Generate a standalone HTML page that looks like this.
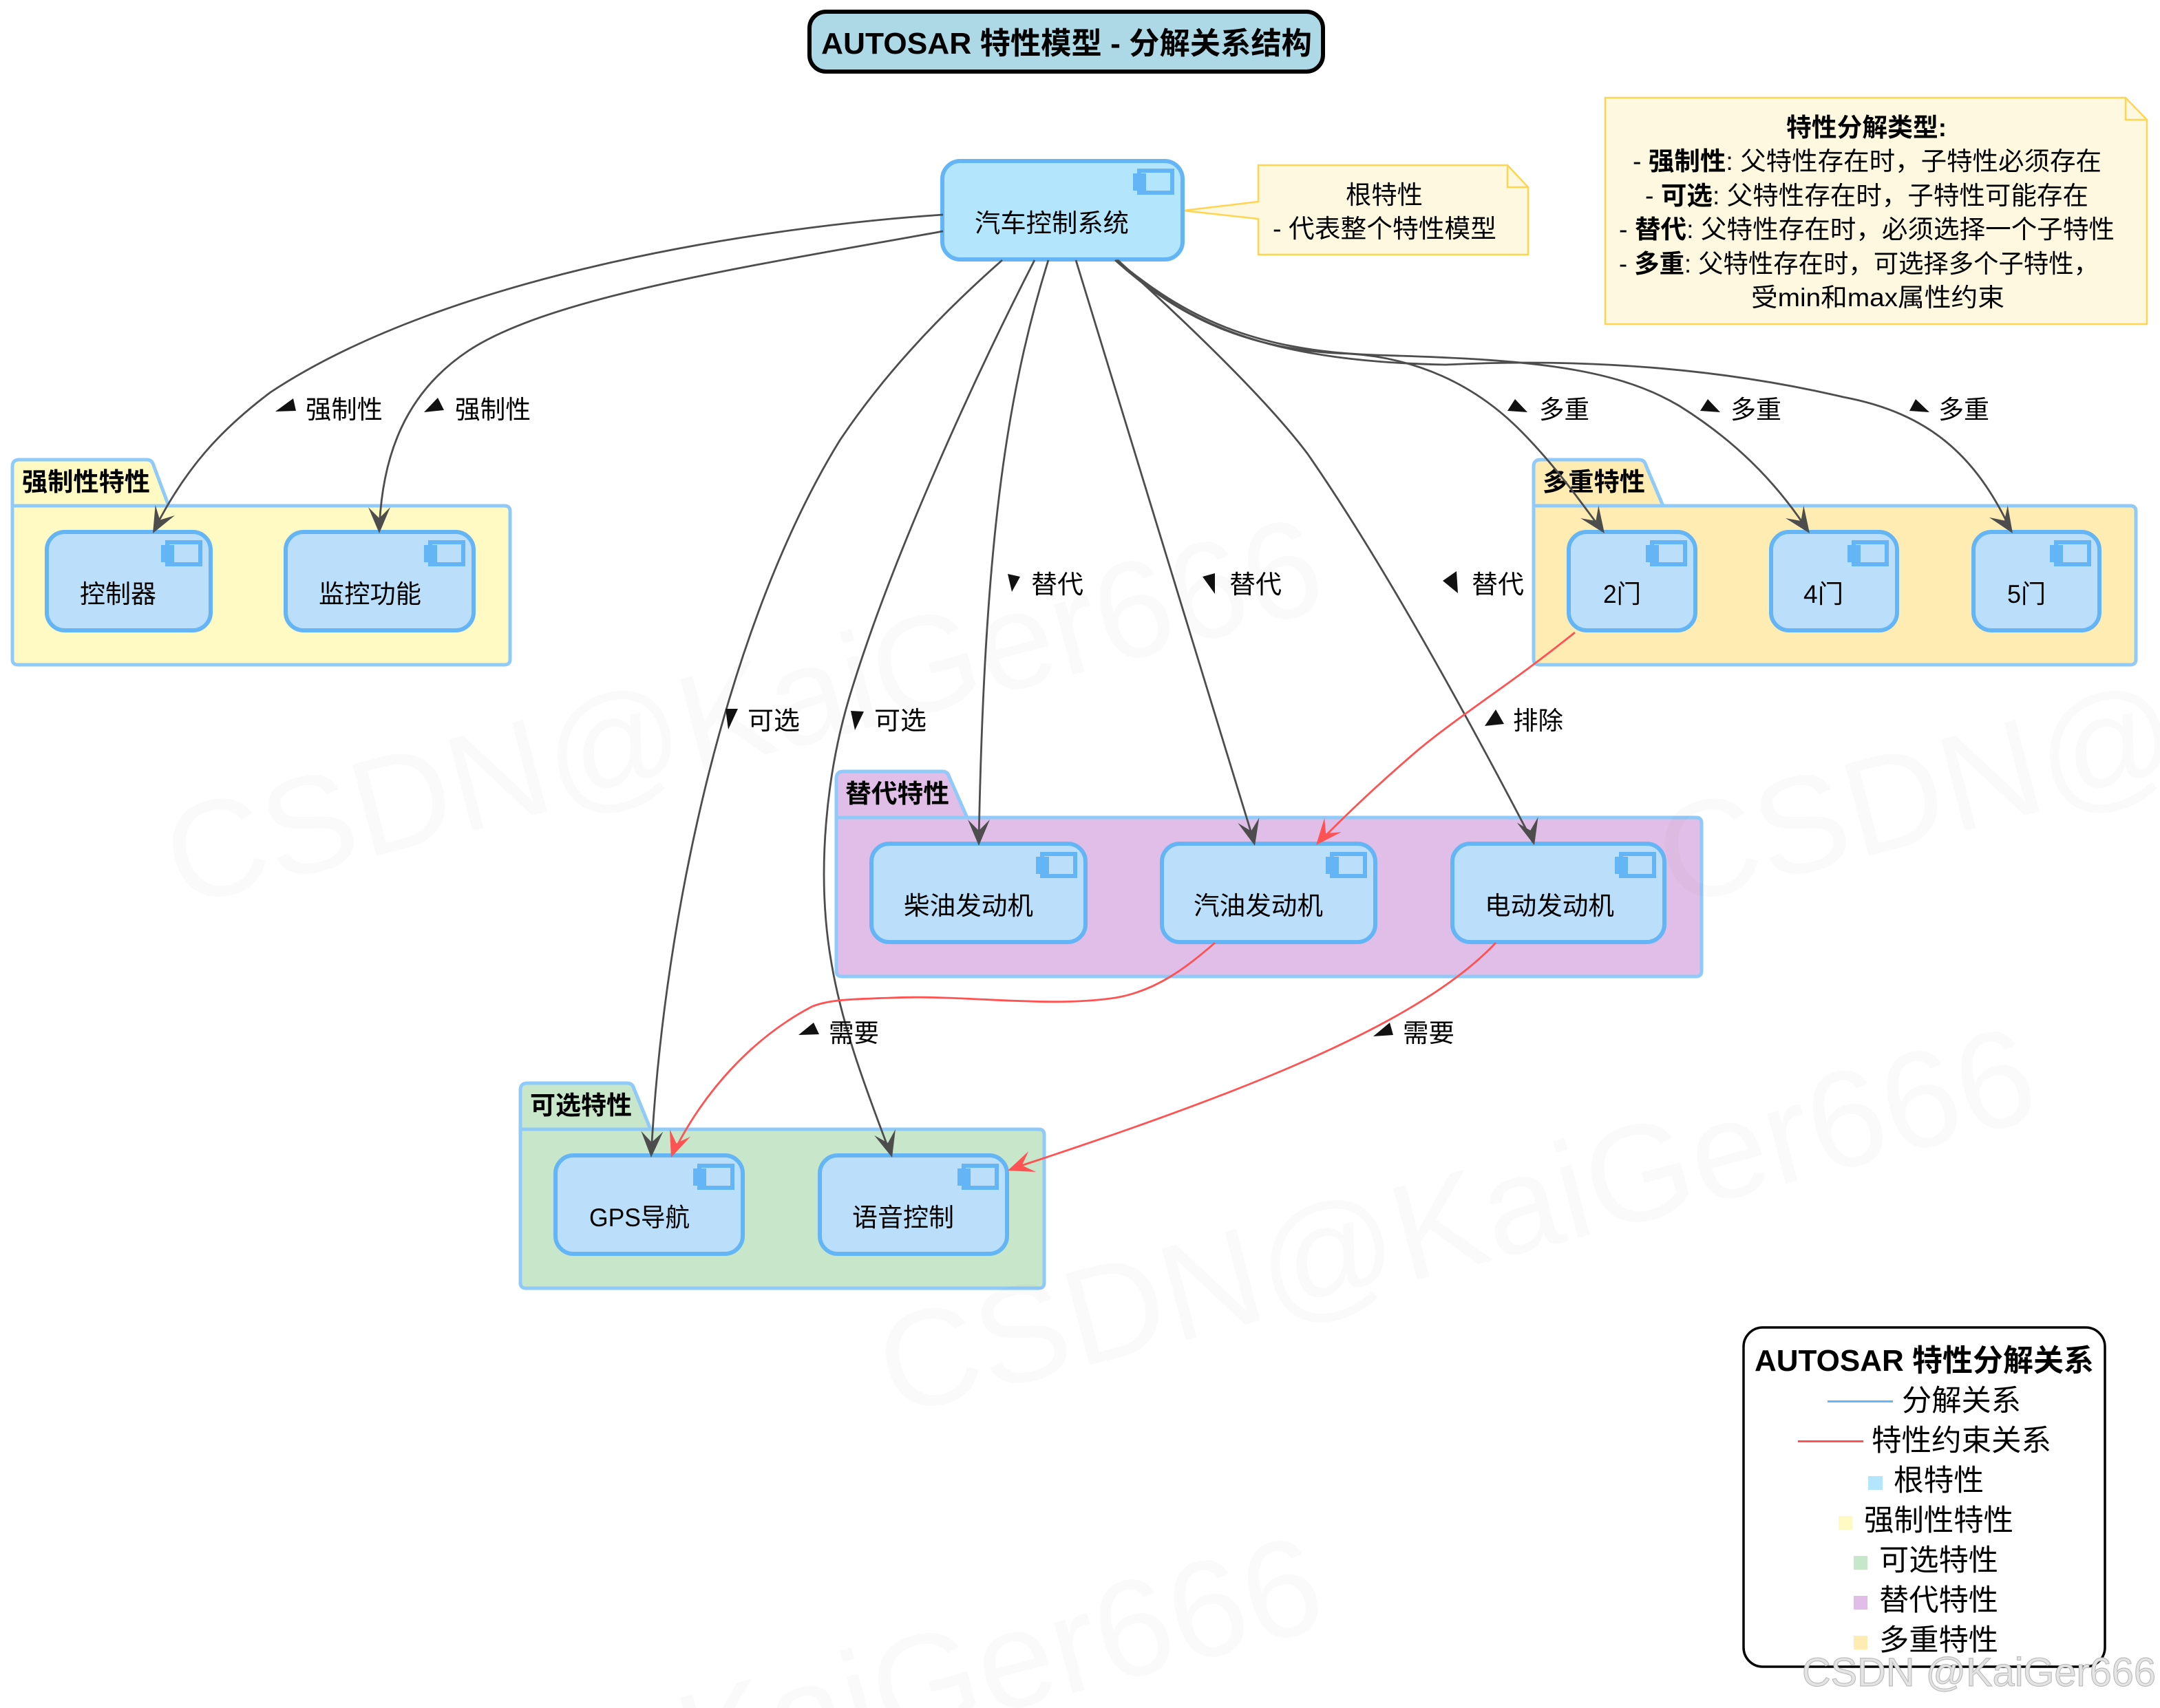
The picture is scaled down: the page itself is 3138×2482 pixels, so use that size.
<!DOCTYPE html>
<html><head><meta charset="utf-8"><style>
html,body{margin:0;padding:0;background:#fff;width:3138px;height:2482px;overflow:hidden}
svg{display:block;overflow:hidden}
text{font-family:"Liberation Sans","Noto Sans CJK SC",sans-serif;fill:#000}
.n{font-size:37px}
.b{font-weight:bold}
.pk{stroke:#90CAF9;stroke-width:5;stroke-linejoin:round}
.node{fill:#BBDEFB;stroke:#64B5F6;stroke-width:6}
.ir{fill:none;stroke:#64B5F6;stroke-width:6}
.it{fill:#64B5F6}
.e{fill:none;stroke:#4d4d4d;stroke-width:2.8}
.r{fill:none;stroke:#FF5252;stroke-width:2.8}
.ah{fill:#4d4d4d}
.ar{fill:#FF5252}
.note{fill:#FFF8E1;stroke:#FFD54F;stroke-width:2.5}
.fold{fill:none;stroke:#FFD54F;stroke-width:2.5}
.wm{font-size:200px;fill:#000!important;fill-opacity:.02}
</style></head><body>
<svg xmlns="http://www.w3.org/2000/svg" width="3138" height="2482" viewBox="0 0 3138 2482">
<defs>
<g id="ic"><rect class="ir" x="-66" y="16" width="48" height="32"/><rect class="it" x="-75" y="20" width="19" height="25"/></g>
<polygon id="ag" class="ah" points="0,0 -16,-38 0,-22 16,-38"/>
<polygon id="ar" class="ar" points="0,0 -16,-38 0,-22 16,-38"/>
</defs>
<rect width="3138" height="2482" fill="#fff"/>

<!-- title -->
<rect x="1176" y="17" width="746" height="87" rx="24" fill="#ADD8E6" stroke="#000" stroke-width="6"/>
<text class="b" x="1193" y="78" font-size="44" textLength="713" lengthAdjust="spacingAndGlyphs">AUTOSAR 特性模型 - 分解关系结构</text>

<!-- packages -->
<path class="pk" fill="#FFF9C4" d="M18 735V678q0-10 10-10H213q8 0 10 8L245 735H733q8 0 8 8V958q0 8-8 8H26q-8 0-8-8V735H245"/>
<path class="pk" fill="#E1BEE7" d="M1215 1188V1131q0-10 10-10H1369q8 0 10 8L1405 1188H2464q8 0 8 8V1411q0 8-8 8H1223q-8 0-8-8V1188H1405"/>
<path class="pk" fill="#C8E6C9" d="M756 1641V1584q0-10 10-10H911q8 0 10 8L945 1641H1509q8 0 8 8V1864q0 8-8 8H764q-8 0-8-8V1641H945"/>
<path class="pk" fill="#FFECB3" d="M2228 735V678q0-10 10-10H2381q8 0 10 8L2416 735H3095q8 0 8 8V958q0 8-8 8H2236q-8 0-8-8V735H2416"/>
<text class="b n" x="32" y="713" textLength="186" lengthAdjust="spacingAndGlyphs">强制性特性</text>
<text class="b n" x="1228" y="1166" textLength="151" lengthAdjust="spacingAndGlyphs">替代特性</text>
<text class="b n" x="770" y="1619" textLength="148" lengthAdjust="spacingAndGlyphs">可选特性</text>
<text class="b n" x="2241" y="713" textLength="149" lengthAdjust="spacingAndGlyphs">多重特性</text>

<!-- notes -->
<path class="note" d="M1828 240H2190L2220 272V370H1828V318L1719 306L1828 293Z"/>
<path class="fold" d="M2190 240V272H2220"/>
<text class="n" x="1955" y="296" textLength="112" lengthAdjust="spacingAndGlyphs">根特性</text>
<text class="n" x="1849" y="345" textLength="325" lengthAdjust="spacingAndGlyphs">- 代表整个特性模型</text>
<path class="note" d="M2332 142H3088L3119 174V471H2332Z"/>
<path class="fold" d="M3088 142V174H3119"/>
<text class="n b" x="2595" y="198" textLength="233" lengthAdjust="spacingAndGlyphs">特性分解类型:</text>
<text class="n" x="2372" y="247" textLength="681" lengthAdjust="spacingAndGlyphs">- <tspan class="b">强制性</tspan>: 父特性存在时，子特性必须存在</text>
<text class="n" x="2390" y="297" textLength="644" lengthAdjust="spacingAndGlyphs">- <tspan class="b">可选</tspan>: 父特性存在时，子特性可能存在</text>
<text class="n" x="2352" y="346" textLength="720" lengthAdjust="spacingAndGlyphs">- <tspan class="b">替代</tspan>: 父特性存在时，必须选择一个子特性</text>
<text class="n" x="2352" y="396" textLength="697" lengthAdjust="spacingAndGlyphs">- <tspan class="b">多重</tspan>: 父特性存在时，可选择多个子特性，</text>
<text class="n" x="2544" y="445" textLength="368" lengthAdjust="spacingAndGlyphs">受min和max属性约束</text>

<!-- nodes -->
<rect x="1369" y="234" width="349" height="143" rx="26" fill="#B3E5FC" stroke="#64B5F6" stroke-width="6"/>
<use href="#ic" transform="translate(1721,232)"/>
<text class="n" x="1416" y="337" textLength="224" lengthAdjust="spacingAndGlyphs">汽车控制系统</text>

<rect class="node" x="68" y="773" width="238" height="143" rx="26"/><use href="#ic" transform="translate(309,772)"/>
<text class="n" x="116" y="876" textLength="111" lengthAdjust="spacingAndGlyphs">控制器</text>
<rect class="node" x="415" y="773" width="273" height="143" rx="26"/><use href="#ic" transform="translate(691,772)"/>
<text class="n" x="463" y="876" textLength="149" lengthAdjust="spacingAndGlyphs">监控功能</text>

<rect class="node" x="2279" y="773" width="184" height="143" rx="26"/><use href="#ic" transform="translate(2466,772)"/>
<text class="n" x="2329" y="876" textLength="55" lengthAdjust="spacingAndGlyphs">2门</text>
<rect class="node" x="2573" y="773" width="183" height="143" rx="26"/><use href="#ic" transform="translate(2759,772)"/>
<text class="n" x="2620" y="876" textLength="58" lengthAdjust="spacingAndGlyphs">4门</text>
<rect class="node" x="2867" y="773" width="183" height="143" rx="26"/><use href="#ic" transform="translate(3053,772)"/>
<text class="n" x="2916" y="876" textLength="56" lengthAdjust="spacingAndGlyphs">5门</text>

<rect class="node" x="1266" y="1226" width="311" height="143" rx="26"/><use href="#ic" transform="translate(1580,1225)"/>
<text class="n" x="1313" y="1329" textLength="188" lengthAdjust="spacingAndGlyphs">柴油发动机</text>
<rect class="node" x="1688" y="1226" width="310" height="143" rx="26"/><use href="#ic" transform="translate(2001,1225)"/>
<text class="n" x="1734" y="1329" textLength="188" lengthAdjust="spacingAndGlyphs">汽油发动机</text>
<rect class="node" x="2110" y="1226" width="308" height="143" rx="26"/><use href="#ic" transform="translate(2421,1225)"/>
<text class="n" x="2157" y="1329" textLength="188" lengthAdjust="spacingAndGlyphs">电动发动机</text>

<rect class="node" x="807" y="1679" width="272" height="143" rx="26"/><use href="#ic" transform="translate(1082,1678)"/>
<text class="n" x="856" y="1782" textLength="146" lengthAdjust="spacingAndGlyphs">GPS导航</text>
<rect class="node" x="1191" y="1679" width="272" height="143" rx="26"/><use href="#ic" transform="translate(1466,1678)"/>
<text class="n" x="1238" y="1782" textLength="148" lengthAdjust="spacingAndGlyphs">语音控制</text>

<!-- connectors -->
<path class="e" d="M1370 312C1100 330 650 400 393 570C320 625 270 680 225 768"/>
<path class="e" d="M1370 336C1100 385 800 430 680 510C590 570 555 660 551 770"/>
<path class="e" d="M1456 378C1380 445 1290 535 1220 640C1060 900 965 1320 946 1678"/>
<path class="e" d="M1503 378C1420 540 1300 800 1238 1000C1200 1120 1185 1270 1208 1400C1225 1500 1265 1600 1294 1678"/>
<path class="e" d="M1523 378C1460 580 1430 800 1422 1222"/>
<path class="e" d="M1563 378C1610 540 1700 820 1822 1224"/>
<path class="e" d="M1623 378C1720 465 1840 580 1900 660C1990 790 2100 980 2227 1224"/>
<path class="e" d="M1620 378C1700 450 1800 510 1960 514C2060 520 2140 560 2200 617C2250 665 2290 720 2328 772"/>
<path class="e" d="M1622 378C1720 460 1820 510 2000 516C2200 522 2340 530 2440 590C2520 640 2580 700 2627 772"/>
<path class="e" d="M1624 378C1730 480 1860 525 2100 530C2300 520 2500 535 2678 577C2800 600 2870 660 2922 772"/>
<path class="r" d="M2288 919C2200 990 2120 1040 2060 1090C1990 1150 1950 1190 1915 1225"/>
<path class="r" d="M1765 1370C1725 1405 1680 1440 1620 1450C1520 1465 1400 1445 1294 1450C1240 1452 1205 1452 1179 1463C1090 1510 1020 1590 977 1678"/>
<path class="r" d="M2173 1370C2060 1490 1800 1590 1468 1699"/>
<use href="#ag" transform="translate(222,775) rotate(28)"/>
<use href="#ag" transform="translate(551,775)"/>
<use href="#ag" transform="translate(946,1682) rotate(2)"/>
<use href="#ag" transform="translate(1296,1682) rotate(-16)"/>
<use href="#ag" transform="translate(1422,1229)"/>
<use href="#ag" transform="translate(1823,1229) rotate(-14)"/>
<use href="#ag" transform="translate(2229,1228) rotate(-15)"/>
<use href="#ag" transform="translate(2331,775) rotate(-35)"/>
<use href="#ag" transform="translate(2629,775) rotate(-35)"/>
<use href="#ag" transform="translate(2924,775) rotate(-33)"/>
<use href="#ar" transform="translate(1912,1228) rotate(40)"/>
<use href="#ar" transform="translate(975,1682) rotate(20)"/>
<use href="#ar" transform="translate(1464,1701) rotate(70)"/>

<!-- labels -->
<g fill="#111">
<polygon points="400,598 426,579 430,597"/>
<polygon points="616,599 636,578 645,596"/>
<polygon points="2190,597 2201,580 2219,599"/>
<polygon points="2470,597 2481,580 2499,599"/>
<polygon points="2774,597 2783,580 2803,599"/>
<polygon points="1464,834 1482,838 1470,860"/>
<polygon points="1747,838 1765,833 1765,863"/>
<polygon points="2096,844 2116,830 2118,862"/>
<polygon points="1054,1030 1072,1030 1058,1060"/>
<polygon points="1236,1033 1255,1034 1242,1061"/>
<polygon points="2157,1055 2173,1031 2185,1052"/>
<polygon points="1160,1504 1182,1486 1190,1503"/>
<polygon points="1995,1506 2019,1486 2024,1504"/>
</g>
<text class="n" x="444" y="608" textLength="112" lengthAdjust="spacingAndGlyphs">强制性</text>
<text class="n" x="661" y="608" textLength="110" lengthAdjust="spacingAndGlyphs">强制性</text>
<text class="n" x="2236" y="608" textLength="73" lengthAdjust="spacingAndGlyphs">多重</text>
<text class="n" x="2514" y="608" textLength="74" lengthAdjust="spacingAndGlyphs">多重</text>
<text class="n" x="2816" y="608" textLength="74" lengthAdjust="spacingAndGlyphs">多重</text>
<text class="n" x="1498" y="862" textLength="76" lengthAdjust="spacingAndGlyphs">替代</text>
<text class="n" x="1786" y="862" textLength="76" lengthAdjust="spacingAndGlyphs">替代</text>
<text class="n" x="2138" y="862" textLength="76" lengthAdjust="spacingAndGlyphs">替代</text>
<text class="n" x="1086" y="1060" textLength="76" lengthAdjust="spacingAndGlyphs">可选</text>
<text class="n" x="1270" y="1060" textLength="76" lengthAdjust="spacingAndGlyphs">可选</text>
<text class="n" x="2198" y="1060" textLength="73" lengthAdjust="spacingAndGlyphs">排除</text>
<text class="n" x="1204" y="1514" textLength="73" lengthAdjust="spacingAndGlyphs">需要</text>
<text class="n" x="2038" y="1514" textLength="75" lengthAdjust="spacingAndGlyphs">需要</text>

<!-- legend -->
<rect x="2533" y="1929" width="525" height="493" rx="28" fill="#fff" stroke="#000" stroke-width="3.5"/>
<text class="b" x="2549" y="1992" font-size="44" textLength="493" lengthAdjust="spacingAndGlyphs">AUTOSAR 特性分解关系</text>
<rect x="2655" y="2035" width="95" height="3" fill="#64B5F6"/>
<text x="2763" y="2050" font-size="43" textLength="173" lengthAdjust="spacingAndGlyphs">分解关系</text>
<rect x="2612" y="2093" width="95" height="3" fill="#FF5252"/>
<text x="2719" y="2108" font-size="43" textLength="261" lengthAdjust="spacingAndGlyphs">特性约束关系</text>
<rect x="2714" y="2145" width="21" height="20" fill="#B3E5FC"/>
<text x="2751" y="2166" font-size="43" textLength="131" lengthAdjust="spacingAndGlyphs">根特性</text>
<rect x="2671" y="2203" width="20" height="20" fill="#FFF9C4"/>
<text x="2708" y="2224" font-size="43" textLength="217" lengthAdjust="spacingAndGlyphs">强制性特性</text>
<rect x="2693" y="2261" width="20" height="20" fill="#C8E6C9"/>
<text x="2730" y="2282" font-size="43" textLength="173" lengthAdjust="spacingAndGlyphs">可选特性</text>
<rect x="2693" y="2319" width="20" height="20" fill="#E1BEE7"/>
<text x="2730" y="2340" font-size="43" textLength="173" lengthAdjust="spacingAndGlyphs">替代特性</text>
<rect x="2693" y="2377" width="20" height="20" fill="#FFECB3"/>
<text x="2730" y="2398" font-size="43" textLength="173" lengthAdjust="spacingAndGlyphs">多重特性</text>

<!-- watermarks -->
<g>
<text class="wm" transform="translate(262,1318) rotate(-14.6)" textLength="1726" lengthAdjust="spacingAndGlyphs">CSDN@KaiGer666</text>
<text class="wm" transform="translate(1298,2058) rotate(-14.6)" textLength="1726" lengthAdjust="spacingAndGlyphs">CSDN@KaiGer666</text>
<text class="wm" transform="translate(262,2798) rotate(-14.6)" textLength="1726" lengthAdjust="spacingAndGlyphs">CSDN@KaiGer666</text>
<text class="wm" transform="translate(2430,1318) rotate(-14.6)" textLength="1726" lengthAdjust="spacingAndGlyphs">CSDN@KaiGer666</text>
</g>
<text x="2618" y="2450" font-size="58" textLength="514" lengthAdjust="spacingAndGlyphs" style="fill:#e4e4e4;stroke:#bdbdbd;stroke-width:1.2">CSDN @KaiGer666</text>
</svg>
</body></html>
